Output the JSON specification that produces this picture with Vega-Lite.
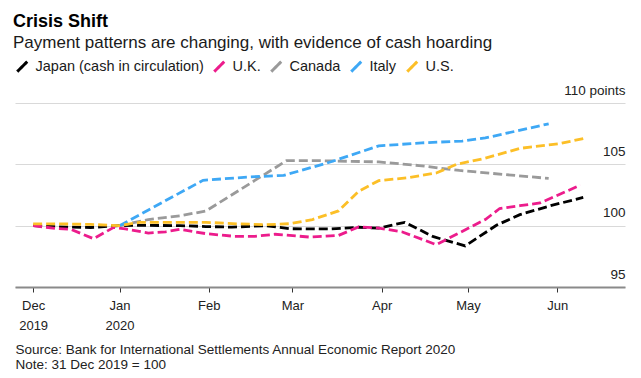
{
  "$schema": "https://vega.github.io/schema/vega-lite/v6.json",
  "width": 610,
  "height": 184,
  "autosize": {"type": "none"},
  "padding": {"left": 15, "top": 103, "right": 16, "bottom": 91},
  "background": "white",
  "title": {
    "text": "Crisis Shift",
    "subtitle": "Payment patterns are changing, with evidence of cash hoarding",
    "anchor": "start",
    "frame": "group",
    "orient": "top",
    "offset": 8,
    "font": "Liberation Sans, Arial, sans-serif",
    "fontSize": 18,
    "fontWeight": "bold",
    "color": "#000000",
    "subtitleFont": "Liberation Sans, Arial, sans-serif",
    "subtitleFontSize": 17,
    "subtitleColor": "#1a1a1a",
    "subtitlePadding": 4,
    "dx": -2
  },
  "config": {
    "view": {"stroke": null},
    "font": "Liberation Sans, Arial, sans-serif"
  },
  "data": {
    "values": [
      {"d": "2019-12-02", "c": "Japan (cash in circulation)", "v": 100.0},
      {"d": "2019-12-11", "c": "Japan (cash in circulation)", "v": 99.9},
      {"d": "2019-12-22", "c": "Japan (cash in circulation)", "v": 99.85},
      {"d": "2020-01-01", "c": "Japan (cash in circulation)", "v": 100.0},
      {"d": "2020-01-08", "c": "Japan (cash in circulation)", "v": 100.03},
      {"d": "2020-01-22", "c": "Japan (cash in circulation)", "v": 100.0},
      {"d": "2020-01-31", "c": "Japan (cash in circulation)", "v": 99.93},
      {"d": "2020-02-09", "c": "Japan (cash in circulation)", "v": 99.88},
      {"d": "2020-02-21", "c": "Japan (cash in circulation)", "v": 100.0},
      {"d": "2020-02-29", "c": "Japan (cash in circulation)", "v": 99.75},
      {"d": "2020-03-14", "c": "Japan (cash in circulation)", "v": 99.73},
      {"d": "2020-03-24", "c": "Japan (cash in circulation)", "v": 99.87},
      {"d": "2020-03-31", "c": "Japan (cash in circulation)", "v": 99.8},
      {"d": "2020-04-09", "c": "Japan (cash in circulation)", "v": 100.27},
      {"d": "2020-04-19", "c": "Japan (cash in circulation)", "v": 99.1},
      {"d": "2020-04-30", "c": "Japan (cash in circulation)", "v": 98.35},
      {"d": "2020-05-11", "c": "Japan (cash in circulation)", "v": 100.05},
      {"d": "2020-05-19", "c": "Japan (cash in circulation)", "v": 100.9},
      {"d": "2020-05-30", "c": "Japan (cash in circulation)", "v": 101.65},
      {"d": "2020-06-10", "c": "Japan (cash in circulation)", "v": 102.3},
      {"d": "2019-12-02", "c": "U.K.", "v": 100.0},
      {"d": "2019-12-10", "c": "U.K.", "v": 99.77},
      {"d": "2019-12-15", "c": "U.K.", "v": 99.71},
      {"d": "2019-12-23", "c": "U.K.", "v": 98.94},
      {"d": "2019-12-30", "c": "U.K.", "v": 99.86},
      {"d": "2020-01-03", "c": "U.K.", "v": 99.73},
      {"d": "2020-01-11", "c": "U.K.", "v": 99.4},
      {"d": "2020-01-17", "c": "U.K.", "v": 99.5},
      {"d": "2020-01-22", "c": "U.K.", "v": 99.7},
      {"d": "2020-01-31", "c": "U.K.", "v": 99.35},
      {"d": "2020-02-10", "c": "U.K.", "v": 99.13},
      {"d": "2020-02-17", "c": "U.K.", "v": 99.13},
      {"d": "2020-02-24", "c": "U.K.", "v": 99.3},
      {"d": "2020-03-07", "c": "U.K.", "v": 99.07},
      {"d": "2020-03-17", "c": "U.K.", "v": 99.2},
      {"d": "2020-03-24", "c": "U.K.", "v": 99.9},
      {"d": "2020-03-31", "c": "U.K.", "v": 99.8},
      {"d": "2020-04-08", "c": "U.K.", "v": 99.5},
      {"d": "2020-04-20", "c": "U.K.", "v": 98.45},
      {"d": "2020-04-27", "c": "U.K.", "v": 99.3},
      {"d": "2020-05-07", "c": "U.K.", "v": 100.5},
      {"d": "2020-05-12", "c": "U.K.", "v": 101.4},
      {"d": "2020-05-19", "c": "U.K.", "v": 101.63},
      {"d": "2020-05-26", "c": "U.K.", "v": 101.85},
      {"d": "2020-06-09", "c": "U.K.", "v": 103.3},
      {"d": "2020-01-01", "c": "Canada", "v": 100.0},
      {"d": "2020-01-11", "c": "Canada", "v": 100.5},
      {"d": "2020-01-22", "c": "Canada", "v": 100.8},
      {"d": "2020-01-31", "c": "Canada", "v": 101.2},
      {"d": "2020-02-28", "c": "Canada", "v": 105.3},
      {"d": "2020-03-10", "c": "Canada", "v": 105.3},
      {"d": "2020-03-31", "c": "Canada", "v": 105.2},
      {"d": "2020-04-14", "c": "Canada", "v": 104.9},
      {"d": "2020-04-28", "c": "Canada", "v": 104.5},
      {"d": "2020-05-29", "c": "Canada", "v": 103.85},
      {"d": "2020-01-01", "c": "Italy", "v": 100.0},
      {"d": "2020-01-30", "c": "Italy", "v": 103.7},
      {"d": "2020-02-15", "c": "Italy", "v": 103.97},
      {"d": "2020-02-27", "c": "Italy", "v": 104.1},
      {"d": "2020-03-13", "c": "Italy", "v": 105.1},
      {"d": "2020-03-31", "c": "Italy", "v": 106.5},
      {"d": "2020-04-15", "c": "Italy", "v": 106.75},
      {"d": "2020-04-29", "c": "Italy", "v": 106.9},
      {"d": "2020-05-07", "c": "Italy", "v": 107.15},
      {"d": "2020-05-29", "c": "Italy", "v": 108.3},
      {"d": "2019-12-02", "c": "U.S.", "v": 100.15},
      {"d": "2019-12-11", "c": "U.S.", "v": 100.15},
      {"d": "2019-12-22", "c": "U.S.", "v": 100.1},
      {"d": "2020-01-01", "c": "U.S.", "v": 100.0},
      {"d": "2020-01-08", "c": "U.S.", "v": 100.27},
      {"d": "2020-01-31", "c": "U.S.", "v": 100.27},
      {"d": "2020-02-11", "c": "U.S.", "v": 100.15},
      {"d": "2020-02-21", "c": "U.S.", "v": 100.08},
      {"d": "2020-02-29", "c": "U.S.", "v": 100.16},
      {"d": "2020-03-08", "c": "U.S.", "v": 100.5},
      {"d": "2020-03-17", "c": "U.S.", "v": 101.2},
      {"d": "2020-03-24", "c": "U.S.", "v": 102.8},
      {"d": "2020-03-31", "c": "U.S.", "v": 103.67},
      {"d": "2020-04-10", "c": "U.S.", "v": 103.9},
      {"d": "2020-04-20", "c": "U.S.", "v": 104.3},
      {"d": "2020-04-27", "c": "U.S.", "v": 105.0},
      {"d": "2020-05-07", "c": "U.S.", "v": 105.5},
      {"d": "2020-05-19", "c": "U.S.", "v": 106.3},
      {"d": "2020-06-02", "c": "U.S.", "v": 106.7},
      {"d": "2020-06-10", "c": "U.S.", "v": 107.1}
    ]
  },
  "mark": {"type": "line", "strokeDash": [9, 4], "strokeWidth": 2.8, "strokeCap": "butt", "clip": true},
  "encoding": {
    "x": {
      "field": "d",
      "type": "temporal",
      "scale": {
        "type": "utc",
        "domain": [
          {"year": 2019, "month": 11, "date": 25, "hours": 17, "utc": true},
          {"year": 2020, "month": 6, "date": 24, "hours": 12, "utc": true}
        ]
      },
      "axis": {
        "values": [
          {"year": 2019, "month": 12, "date": 2, "utc": true},
          {"year": 2020, "month": 1, "date": 1, "utc": true},
          {"year": 2020, "month": 2, "date": 1, "utc": true},
          {"year": 2020, "month": 3, "date": 1, "utc": true},
          {"year": 2020, "month": 4, "date": 1, "utc": true},
          {"year": 2020, "month": 5, "date": 1, "utc": true},
          {"year": 2020, "month": 6, "date": 1, "utc": true}
        ],
        "labelExpr": "utcmonth(datum.value) == 0 || utcmonth(datum.value) == 11 ? [utcFormat(datum.value, '%b'), utcFormat(datum.value, '%Y')] : utcFormat(datum.value, '%b')",
        "grid": false,
        "domainColor": "#8a8a8a",
        "domainWidth": 2,
        "tickColor": "#333333",
        "tickSize": 5,
        "tickWidth": 1,
        "labelFontSize": 13,
        "labelColor": "#222222",
        "labelPadding": 7,
        "labelBaseline": "top",
        "labelLineHeight": 20,
        "labelFlush": false,
        "labelOverlap": false,
        "title": ["Source: Bank for International Settlements Annual Economic Report 2020", "Note: 31 Dec 2019 = 100"],
        "titleFontSize": 13.5,
        "titleFontWeight": "normal",
        "titleColor": "#222222",
        "titleAnchor": "start",
        "titleAlign": "left",
        "titleBaseline": "alphabetic",
        "titleLineHeight": 15,
        "titleX": 0,
        "titleY": 66
      }
    },
    "y": {
      "field": "v",
      "type": "quantitative",
      "scale": {"domain": [95, 110], "nice": false, "zero": false},
      "axis": {
        "orient": "right",
        "values": [95, 100, 105, 110],
        "labelExpr": "datum.value == 110 ? '110 points' : datum.label",
        "grid": true,
        "gridColor": "#d9d9d9",
        "gridWidth": 1,
        "domain": false,
        "ticks": false,
        "tickSize": 0,
        "labelPadding": 0,
        "labelAlign": "right",
        "labelBaseline": "alphabetic",
        "labelOffset": -9,
        "labelFontSize": 13.5,
        "labelColor": "#222222",
        "labelFlush": false,
        "labelOverlap": false,
        "title": null
      }
    },
    "color": {
      "field": "c",
      "type": "nominal",
      "scale": {
        "domain": ["Japan (cash in circulation)", "U.K.", "Canada", "Italy", "U.S."],
        "range": ["#000000", "#ec1c8c", "#9a9a9a", "#3ea8f5", "#fcbf27"]
      },
      "legend": {
        "orient": "none",
        "legendX": 0,
        "legendY": -44,
        "direction": "horizontal",
        "columns": 5,
        "title": null,
        "padding": 0,
        "symbolType": "M-1,1L1,-1",
        "symbolSize": 100,
        "symbolStrokeWidth": 3,
        "symbolDash": [1, 0],
        "labelFontSize": 14.5,
        "labelLimit": 400,
        "labelColor": "#1a1a1a",
        "labelOffset": 6,
        "columnPadding": 4
      }
    }
  }
}
